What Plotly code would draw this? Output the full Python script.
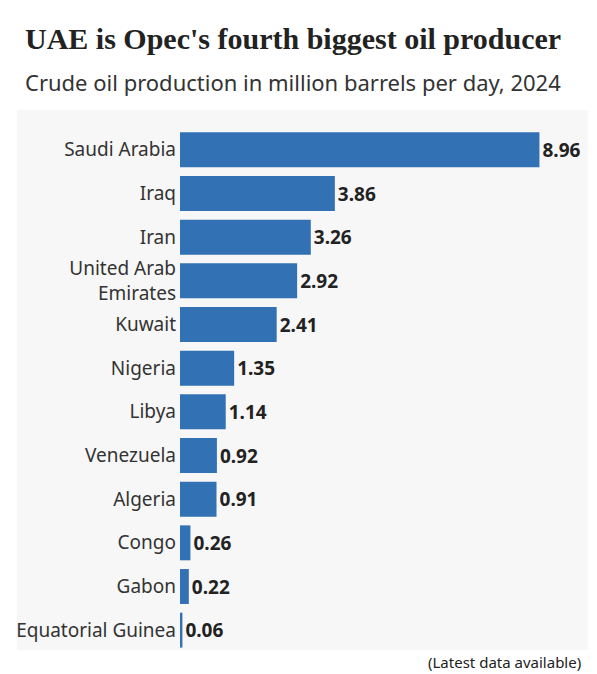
import plotly.graph_objects as go

countries = ["Saudi Arabia", "Iraq", "Iran", "United Arab<br>Emirates", "Kuwait", "Nigeria",
             "Libya", "Venezuela", "Algeria", "Congo", "Gabon", "Equatorial Guinea"]
production = [8.96, 3.86, 3.26, 2.92, 2.41, 1.35, 1.14, 0.92, 0.91, 0.26, 0.22, 0.06]
value_labels = [f"{v:.2f}" for v in production]

# page has an 8px body margin, so the figure is drawn 8px in from the corner
OFF = 8
W, H = 597 - OFF, 674 - OFF
L, R, T, B = 168 - OFF, 8, 128 - OFF, 30 - OFF
pw, ph = W - L - R, H - T - B


def px_x(x):
    return (x - OFF - L) / pw


def px_y(y):
    return (H - B - (y - OFF)) / ph


fig = go.Figure(go.Bar(
    x=production, y=countries, orientation="h",
    marker=dict(color="#3271b3", line=dict(width=0)),
    text=value_labels, textposition="outside", cliponaxis=False,
    textfont=dict(family="Noto Sans", size=19, color="#222222", weight="bold"),
))

fig.add_shape(type="rect", xref="paper", yref="paper", layer="below",
              x0=px_x(0), x1=px_x(588), y0=px_y(650), y1=px_y(110),
              fillcolor="#f7f7f7", line=dict(width=0))

fig.add_annotation(text="UAE is Opec's fourth biggest oil producer", xref="paper", yref="paper",
                   x=px_x(6), y=px_y(38), xanchor="left", yanchor="middle", showarrow=False,
                   font=dict(family="Liberation Serif", size=30, color="#222222", weight="bold"))
fig.add_annotation(text="Crude oil production in million barrels per day, 2024", xref="paper", yref="paper",
                   x=px_x(6), y=px_y(82), xanchor="left", yanchor="middle", showarrow=False,
                   font=dict(family="Noto Sans", size=22, color="#333333"))
fig.add_annotation(text="(Latest data available)", xref="paper", yref="paper",
                   x=px_x(583), y=px_y(662), xanchor="right", yanchor="middle", showarrow=False,
                   font=dict(family="Noto Sans", size=15, color="#222222"))

fig.update_layout(
    width=W, height=H, margin=dict(l=L, r=R, t=T, b=B),
    paper_bgcolor="white", plot_bgcolor="rgba(0,0,0,0)",
    showlegend=False, bargap=0.2,
    xaxis=dict(range=[0, 8.96 * (pw / 370)], visible=False, fixedrange=True),
    yaxis=dict(autorange="reversed", showgrid=False, zeroline=False, showline=False,
               ticks="", ticklabelstandoff=3,
               tickfont=dict(family="Noto Sans", size=19, color="#333333")),
)

fig.write_html("out.html")
